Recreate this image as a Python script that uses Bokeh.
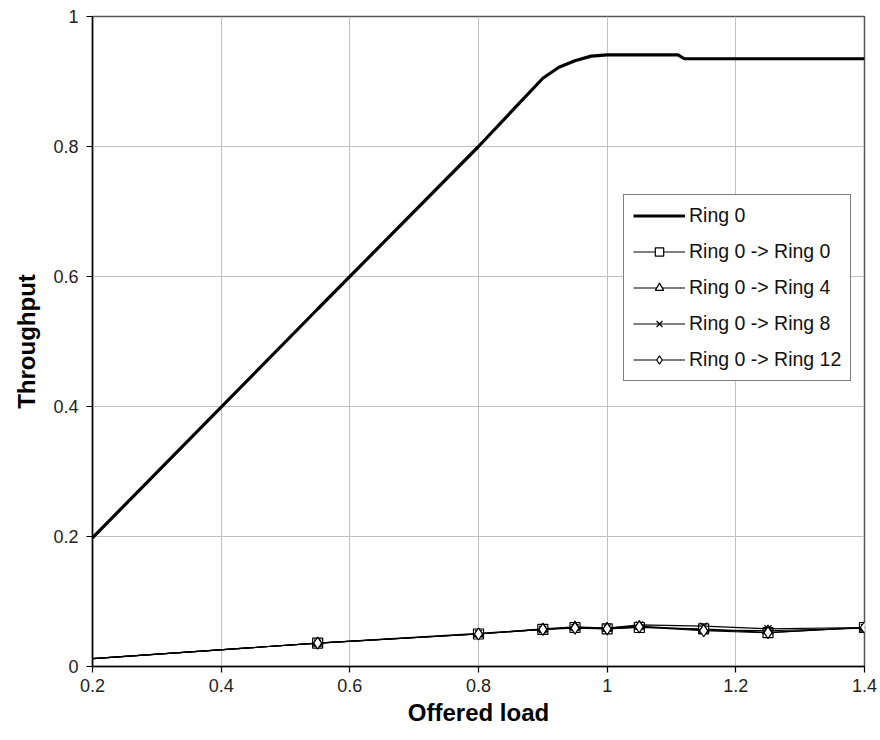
from bokeh.plotting import figure
from bokeh.models import Range1d, FixedTicker, CustomJSTickFormatter, Legend, LegendItem
from bokeh.embed import file_html
from bokeh.resources import INLINE

# Ring 0 total throughput
ring0_x = [0.2, 0.55, 0.8, 0.9, 0.925, 0.95, 0.975, 1.0, 1.05, 1.11, 1.12, 1.25, 1.4]
ring0_y = [0.198, 0.55, 0.80, 0.905, 0.922, 0.932, 0.939, 0.941, 0.941, 0.941, 0.935, 0.935, 0.935]

# Ring 0 -> Ring N throughput
load = [0.2, 0.55, 0.8, 0.9, 0.95, 1.0, 1.05, 1.15, 1.25, 1.4]
r0_r0 = [0.012, 0.036, 0.050, 0.057, 0.060, 0.058, 0.060, 0.058, 0.052, 0.060]
r0_r4 = [0.012, 0.036, 0.050, 0.058, 0.061, 0.059, 0.062, 0.056, 0.055, 0.059]
r0_r8 = [0.012, 0.036, 0.051, 0.057, 0.060, 0.059, 0.064, 0.062, 0.058, 0.060]
r0_r12 = [0.012, 0.036, 0.050, 0.057, 0.059, 0.058, 0.061, 0.055, 0.052, 0.060]

x_ticks = [0.2, 0.4, 0.6, 0.8, 1.0, 1.2, 1.4]
y_ticks = [0.0, 0.2, 0.4, 0.6, 0.8, 1.0]

FONT = "Liberation Sans"

p = figure(width=880, height=740, output_backend="svg", toolbar_location=None,
           x_range=Range1d(0.2, 1.4), y_range=Range1d(0, 1))
p.min_border_left = 92
p.min_border_right = 16
p.min_border_top = 16
p.min_border_bottom = 74
p.background_fill_color = "white"
p.border_fill_color = "white"
p.outline_line_color = "#555555"
p.outline_line_width = 1.5

fmt = CustomJSTickFormatter(code="return tick.toFixed(1).replace(/\\.0$/, '');")
for ax, ticks in ((p.xaxis[0], x_ticks), (p.yaxis[0], y_ticks)):
    ax.ticker = FixedTicker(ticks=ticks)
    ax.formatter = fmt
    ax.axis_line_color = "black"
    ax.axis_line_width = 1.5
    ax.major_tick_line_color = "black"
    ax.major_tick_line_width = 1.2
    ax.major_tick_out = 6
    ax.major_tick_in = 0
    ax.minor_tick_line_color = None
    ax.major_label_text_font = FONT
    ax.major_label_text_font_size = "18px"
    ax.major_label_text_color = "#222222"
    ax.axis_label_text_font = FONT
    ax.axis_label_text_font_size = "24px"
    ax.axis_label_text_font_style = "bold"
    ax.axis_label_text_color = "black"

p.xaxis.axis_label = "Offered load"
p.yaxis.axis_label = "Throughput"
p.xaxis.major_label_standoff = 6
p.yaxis.major_label_standoff = 8
p.xaxis.axis_label_standoff = 4
p.yaxis.axis_label_standoff = 10

p.grid.grid_line_color = "#c0c0c0"
p.grid.grid_line_width = 1
p.xgrid.ticker = FixedTicker(ticks=x_ticks)
p.ygrid.ticker = FixedTicker(ticks=y_ticks)

l0 = p.line(ring0_x, ring0_y, line_color="black", line_width=3.2)

items = [LegendItem(label="Ring 0", renderers=[l0])]
series = [(r0_r0, "square", "Ring 0 -> Ring 0"),
          (r0_r4, "triangle", "Ring 0 -> Ring 4"),
          (r0_r8, "x", "Ring 0 -> Ring 8"),
          (r0_r12, "diamond", "Ring 0 -> Ring 12")]
for ys, mk, lab in series:
    ln = p.line(load, ys, line_color="black", line_width=1.2)
    sz = 12 if mk == "diamond" else 10
    sc = p.scatter(load[1:], ys[1:], marker=mk, size=sz, fill_color="white",
                   line_color="black", line_width=1.2)
    items.append(LegendItem(label=lab, renderers=[ln, sc]))

legend = Legend(items=items, location=(531, 285))
legend.border_line_color = "black"
legend.border_line_width = 1
legend.background_fill_color = "white"
legend.background_fill_alpha = 1
legend.label_text_font = FONT
legend.label_text_font_size = "19.5px"
legend.label_text_color = "#111111"
legend.glyph_width = 52
legend.glyph_height = 21
legend.label_height = 21
legend.spacing = 13
legend.padding = 9
legend.margin = 0
legend.label_standoff = 4
p.add_layout(legend, "center")

open("out.html", "w").write(file_html(p, INLINE))
